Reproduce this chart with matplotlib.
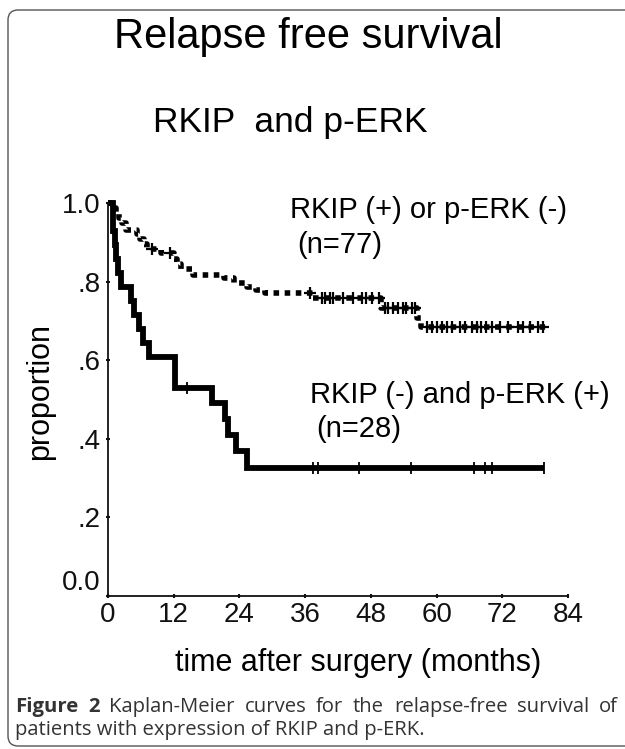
import numpy as np
import matplotlib
matplotlib.use("Agg")
import matplotlib.pyplot as plt
from matplotlib.patches import FancyBboxPatch

# ---------------- data ----------------
# RKIP (-) and p-ERK (+), n=28  (solid)
solid_times = [0, 0.9, 1.0, 1.2, 1.5, 1.8, 2.4, 4.2, 4.8, 5.6, 6.3, 7.5, 12.3, 19.0, 21.4, 21.9, 23.3, 25.3]
solid_surv = [1.0, 0.964, 0.929, 0.893, 0.857, 0.821, 0.786, 0.750, 0.714, 0.679, 0.643, 0.607, 0.530,
              0.490, 0.450, 0.410, 0.370, 0.325]
solid_end = 79.7
solid_censor = [14.4, 37.5, 38.3, 45.8, 55.3, 66.8, 68.8, 70.1, 79.7]

# RKIP (+) or p-ERK (-), n=77  (dotted/dashed)
dash_times = [0, 0.8, 1.4, 2.0, 2.6, 3.3, 5.3, 5.9, 6.5, 7.1, 9.6, 12.0, 12.6, 13.4, 15.5, 21.2, 23.0,
              25.4, 27.0, 28.6, 37.5, 49.8, 56.5, 57.2]
dash_surv = [1.0, 0.987, 0.974, 0.961, 0.948, 0.932, 0.922, 0.909, 0.896, 0.883, 0.873, 0.857, 0.844,
             0.831, 0.818, 0.808, 0.797, 0.787, 0.778, 0.770, 0.758, 0.732, 0.708, 0.685]
dash_end = 80.0
dash_censor = [8.0, 11.3, 36.9, 39.0, 39.6, 40.5, 41.1, 43.0, 44.8, 46.3, 47.2, 48.2, 49.4, 50.6, 51.2,
               52.1, 53.0, 53.9, 54.5, 55.5, 56.1, 58.2, 59.1, 60.0, 60.9, 61.9, 62.8, 64.3, 65.2, 66.4,
               67.3, 68.2, 69.1, 70.1, 71.6, 73.1, 74.9, 75.8, 77.1, 78.6, 79.5]

x_ticks = [0, 12, 24, 36, 48, 60, 72, 84]
y_ticks = [0.0, 0.2, 0.4, 0.6, 0.8, 1.0]
y_ticklabels = ["", ".2", ".4", ".6", ".8", "1.0"]

title1 = "Relapse free survival"
title2 = "RKIP  and p-ERK"
label_plus = "RKIP (+) or p-ERK (-)"
label_plus_n = "(n=77)"
label_minus = "RKIP (-) and p-ERK (+)"
label_minus_n = "(n=28)"
xlabel = "time after surgery (months)"
ylabel = "proportion"
cap_bold_words = ["Figure", "2"]
cap_rest_words = "Kaplan-Meier curves for the relapse-free survival of".split()
cap_line2 = "patients with expression of RKIP and p-ERK."

# ---------------- figure ----------------
plt.rcParams['font.family'] = ['Liberation Sans', 'DejaVu Sans']
W, H = 625, 749
fig = plt.figure(figsize=(W / 100, H / 100), dpi=100)
fig.patch.set_facecolor("white")

# rounded frame
frame = FancyBboxPatch((8, 3), 660, 736, boxstyle="round,pad=0,rounding_size=10",
                       transform=None, fill=False, edgecolor="#555555", linewidth=1.0)
fig.patches.append(frame)

ax = fig.add_axes([108 / W, 1 - 596 / H, (568 - 108) / W, (596 - 203) / H])
ax.set_xlim(0, 84)
ax.set_ylim(0, 1.0)
for s in ["top", "right"]:
    ax.spines[s].set_visible(False)
for s in ["left", "bottom"]:
    ax.spines[s].set_linewidth(1.3)
    ax.spines[s].set_color("#111111")


def step_value(times, surv, t):
    i = np.searchsorted(times, t, side="right") - 1
    return surv[max(i, 0)]


# solid curve
sx = solid_times + [solid_end]
sy = solid_surv + [solid_surv[-1]]
ax.step(sx, sy, where="post", color="black", linewidth=4.2, clip_on=False,
        solid_joinstyle="miter", solid_capstyle="butt")
cy = [step_value(solid_times, solid_surv, t) for t in solid_censor]
ax.plot(solid_censor, cy, linestyle="none", marker="|", markersize=9, markeredgewidth=1.3,
        color="black", clip_on=False)

# dotted curve
dx = dash_times + [dash_end]
dy = dash_surv + [dash_surv[-1]]
ax.step(dx, dy, where="post", color="black", linewidth=4.0, clip_on=False,
        linestyle=(0, (1.0, 1.0)), dash_capstyle="butt")
cy2 = [step_value(dash_times, dash_surv, t) for t in dash_censor]
ax.plot(dash_censor, cy2, linestyle="none", marker="+", markersize=9, markeredgewidth=1.6,
        color="black", clip_on=False)

# ticks
ax.set_xticks(x_ticks)
ax.set_xticklabels([str(v) for v in x_ticks])
ax.set_yticks(y_ticks)
ax.set_yticklabels(y_ticklabels)
ax.tick_params(axis="both", direction="inout", length=3, width=1.5, labelsize=20, colors="#111111")
ax.tick_params(axis="x", pad=3)
ax.tick_params(axis="y", pad=4)
ax.text(-0.017, 0.0, "0.0", transform=ax.transAxes, ha="right", va="bottom", fontsize=20,
        color="#111111")

ax.set_xlabel(xlabel, fontsize=22)
ax.xaxis.set_label_coords((358 - 108) / 460, -(663 - 596) / 393, transform=ax.transAxes)
ax.xaxis.label.set_va("center")
ax.set_ylabel(ylabel, fontsize=22)
ax.yaxis.set_label_coords(-(108 - 40) / 460, (596 - 392) / 393, transform=ax.transAxes)
ax.yaxis.label.set_va("center")

# annotations
ax.text(33.2, 0.963, label_plus, fontsize=21, ha="left", va="baseline")
ax.text(34.5, 0.873, label_plus_n, fontsize=21, ha="left", va="baseline")
ax.text(36.9, 0.49, label_minus, fontsize=21, ha="left", va="baseline")
ax.text(38.1, 0.404, label_minus_n, fontsize=21, ha="left", va="baseline")

# titles
fig.text(308 / W, 1 - 48 / H, title1, fontsize=30, ha="center", va="baseline")
fig.text(290 / W, 1 - 132 / H, title2, fontsize=25.5, ha="center", va="baseline")

# caption: size chosen so line 1 (natural spacing) is ~568 px; then justified 15..618
cap_font = ["Open Sans", "DejaVu Sans"]
cap_col = "#333333"
renderer = fig.canvas.get_renderer()
probe1 = fig.text(0, 0, " ".join(cap_bold_words), fontsize=10, fontweight="bold", family=cap_font)
probe2 = fig.text(0, 0, " " + " ".join(cap_rest_words), fontsize=10, family=cap_font)
w10 = probe1.get_window_extent(renderer).width + probe2.get_window_extent(renderer).width
probe1.remove()
probe2.remove()
cap_size = 10 * 568 / w10

words = [(w, "bold") for w in cap_bold_words] + [(w, "normal") for w in cap_rest_words]
objs = []
for w, wt in words:
    t = fig.text(0, 1 - 712 / H, w, fontsize=cap_size, fontweight=wt, family=cap_font,
                 color=cap_col, ha="left", va="baseline")
    objs.append(t)
widths = [t.get_window_extent(renderer).width for t in objs]
left, right = 15, 618
gap = (right - left - sum(widths)) / (len(objs) - 1)
xpos = left
for t, wd in zip(objs, widths):
    t.set_x(xpos / W)
    xpos += wd + gap
fig.text(15 / W, 1 - 735 / H, cap_line2, fontsize=cap_size, family=cap_font,
         color=cap_col, ha="left", va="baseline")

fig.savefig("out.png", dpi=100, facecolor="white")
